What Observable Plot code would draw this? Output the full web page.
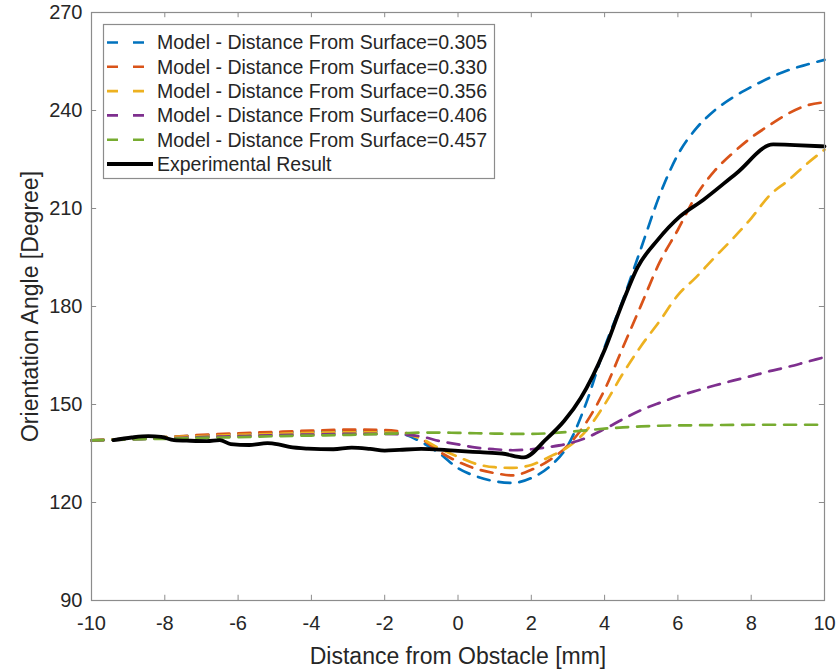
<!DOCTYPE html>
<html>
<head>
<meta charset="utf-8">
<script src="https://cdn.jsdelivr.net/npm/d3@7"></script>
<script src="https://cdn.jsdelivr.net/npm/@observablehq/plot@0.6"></script>
<style>
  html, body { margin: 0; padding: 0; background: #fff; }
  #chart { width: 840px; height: 669px; }
</style>
</head>
<body>
<div id="chart"></div>
<script>
// ---- Data ----
const modelX = [-10,-9,-8,-7,-6,-5,-4,-3,-2,-1.5,-1,-0.5,0,0.5,1,1.5,2,2.5,3,3.5,4,4.5,5,5.5,6,6.5,7,7.5,8,8.5,9,9.5,10];
const model305 = [139,139.5,140,140.5,141,141.3,141.6,141.8,141.8,141,138.5,135,130.5,128,126.5,126,127.5,131,137.5,150.5,167.5,182,198,214,226.5,234.5,240,244,247.2,250,252.3,254,255.5];
const model330 = [139,139.5,140,140.7,141.2,141.6,142,142.3,142.2,141.5,139.5,135.5,132.5,130.3,129,128.3,130,133,137.5,144.5,154.5,167.5,180.5,193.5,203.5,214,221.5,227,231.7,235.5,239,241.5,242.5];
const model356 = [139,139.5,140,140.3,140.7,141,141.3,141.5,141.5,141,139.5,136.5,134,131.8,130.8,130.6,131.5,134,137,142,150,159.5,168,175.5,183.5,189,195,200.8,207,214,218.5,223.5,228];
const model406 = [139,139.3,139.6,140,140.3,140.6,140.8,141,141,140.8,140.2,138.8,137.8,136.8,136.3,136,136.3,137,138,139.8,142.5,145.5,148.3,150.5,152.5,154.2,155.8,157.3,158.7,160.2,161.5,163,164.5];
const model457 = [139,139.3,139.5,139.8,140,140.3,140.5,140.7,141,141.2,141.4,141.4,141.3,141.2,141.1,141,141,141.2,141.6,142.1,142.6,143,143.3,143.5,143.6,143.65,143.7,143.75,143.8,143.8,143.8,143.8,143.8];

const expX = [-9.4,-8.9,-8.45,-8.1,-7.75,-7.3,-6.85,-6.5,-6.2,-5.7,-5.2,-4.9,-4.6,-4.1,-3.4,-2.9,-2.4,-2,-1.6,-1,-0.5,0,0.6,1.2,1.8,2.4,2.9,3.35,4.0,4.45,4.9,5.45,6.05,6.7,7.6,8.6,9.2,10];
const expY = [139.1,139.9,140.3,140.1,139.1,138.9,138.8,139.1,137.9,137.6,138.2,137.8,137,136.5,136.3,136.8,136.4,135.9,136.1,136.4,136.2,135.8,135.4,135,133.8,139.3,145,152,166.7,180,192,200.4,207.5,212.7,220.8,229.6,229.4,229];

const seriesNames = [
  "Model - Distance From Surface=0.305",
  "Model - Distance From Surface=0.330",
  "Model - Distance From Surface=0.356",
  "Model - Distance From Surface=0.406",
  "Model - Distance From Surface=0.457",
  "Experimental Result"
];
const seriesColors = ["#0072BD","#D95319","#EDB120","#7E2F8E","#77AC30","#000000"];
const modelValues = [model305, model330, model356, model406, model457];

const xTicks = [-10,-8,-6,-4,-2,0,2,4,6,8,10];
const yTicks = [90,120,150,180,210,240,270];
const xLabel = "Distance from Obstacle [mm]";
const yLabel = "Orientation Angle [Degree]";

// ---- Build tables ----
const modelRows = [];
modelValues.forEach((vals, i) => {
  vals.forEach((v, j) => modelRows.push({series: seriesNames[i], x: modelX[j], y: v}));
});
const expRows = expX.map((x, i) => ({x, y: expY[i]}));

const frameColor = "#8c8c8c";
const textColor = "#262626";
const font = "'Liberation Sans', Arial, Helvetica, sans-serif";

const chart = Plot.plot({
  width: 840,
  height: 669,
  marginLeft: 91,
  marginRight: 16,
  marginTop: 12,
  marginBottom: 69,
  style: {fontFamily: font, background: "#fff", color: textColor, overflow: "visible"},
  x: {domain: [-10, 10]},
  y: {domain: [90, 270]},
  color: {domain: seriesNames.slice(0, 5), range: seriesColors.slice(0, 5)},
  marks: [
    Plot.ruleX(xTicks, {y1: 90, y2: 91.6, stroke: frameColor}),
    Plot.ruleX(xTicks, {y1: 270, y2: 268.4, stroke: frameColor}),
    Plot.ruleY(yTicks, {x1: -10, x2: -9.86, stroke: frameColor}),
    Plot.ruleY(yTicks, {x1: 10, x2: 9.86, stroke: frameColor}),
    Plot.line(modelRows, {x: "x", y: "y", z: "series", stroke: "series", strokeWidth: 2.7,
      strokeDasharray: "12,9", curve: "monotone-x"}),
    Plot.line(expRows, {x: "x", y: "y", stroke: "#000", strokeWidth: 3.8, curve: "monotone-x"}),
    Plot.frame({stroke: frameColor, strokeWidth: 1.2}),
    Plot.axisX({ticks: xTicks, tickSize: 0, tickPadding: 15, fontSize: 20, label: null, tickFormat: d => String(d).replace("−", "-")}),
    Plot.axisY({ticks: yTicks, tickSize: 0, tickPadding: 9, fontSize: 20, label: null}),
    Plot.text([xLabel], {frameAnchor: "bottom", dy: 63, lineAnchor: "bottom", fontSize: 23, fill: textColor}),
    Plot.text([yLabel], {frameAnchor: "left", dx: -54, rotate: -90, textAnchor: "middle", lineAnchor: "bottom", fontSize: 23, fill: textColor})
  ]
});

document.getElementById("chart").appendChild(chart);

// ---- Legend inside the plot ----
const svg = d3.select(chart);
const lg = svg.append("g")
  .attr("font-family", font).attr("font-size", 19.5).attr("fill", textColor)
  .attr("text-anchor", "start");
lg.append("rect").attr("x", 103.5).attr("y", 24.5).attr("width", 391).attr("height", 154)
  .attr("fill", "#fff").attr("stroke", frameColor).attr("stroke-width", 1.2);
const rowY0 = 42.5, rowStep = 24.3;
seriesNames.forEach((name, i) => {
  const y = rowY0 + i * rowStep;
  const isExp = i === 5;
  lg.append("line")
    .attr("x1", 107).attr("x2", isExp ? 153 : 145)
    .attr("y1", y).attr("y2", y)
    .attr("stroke", seriesColors[i])
    .attr("stroke-width", isExp ? 3.8 : 2.6)
    .attr("stroke-dasharray", isExp ? null : "11,15");
  lg.append("text").attr("x", 157).attr("y", y).attr("dy", "0.35em")
    .attr("text-anchor", "start").text(name);
});
</script>
</body>
</html>
